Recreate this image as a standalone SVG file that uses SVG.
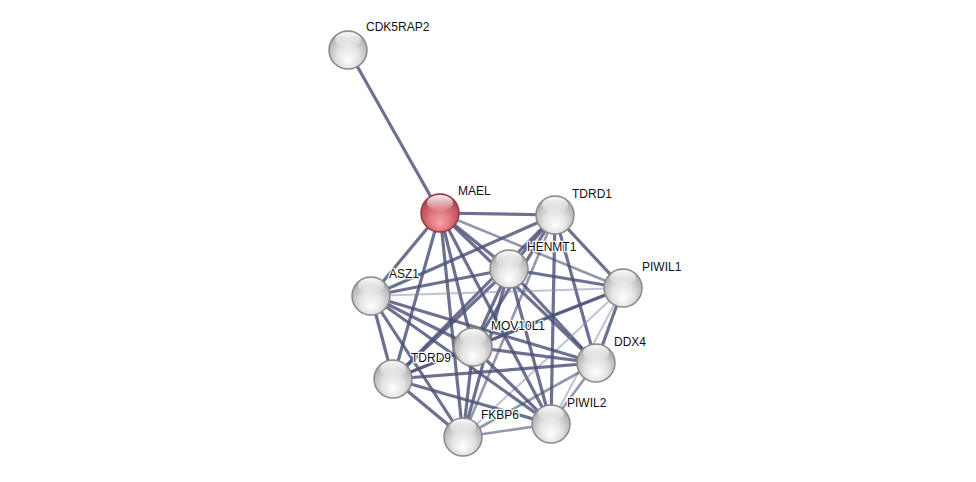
<svg xmlns="http://www.w3.org/2000/svg" width="976" height="482" viewBox="0 0 976 482">
<defs>
<radialGradient id="gw" cx="50%" cy="60%" r="58%" fx="50%" fy="78%">
<stop offset="0" stop-color="#ffffff"/>
<stop offset="0.5" stop-color="#e4e4e4"/>
<stop offset="1" stop-color="#a8a8a8"/>
</radialGradient>
<radialGradient id="gr" cx="50%" cy="60%" r="58%" fx="50%" fy="78%">
<stop offset="0" stop-color="#f6a4a8"/>
<stop offset="0.5" stop-color="#de747b"/>
<stop offset="1" stop-color="#ad424b"/>
</radialGradient>
<linearGradient id="hl" x1="0" y1="0" x2="0" y2="1">
<stop offset="0" stop-color="#ffffff" stop-opacity="0.95"/>
<stop offset="1" stop-color="#ffffff" stop-opacity="0.05"/>
</linearGradient>
</defs>
<style>
.e{stroke:#4a5276;stroke-width:3.2;stroke-opacity:0.82;fill:none}
.m{stroke:#4a5276;stroke-width:2.6;stroke-opacity:0.6;fill:none}
.l{stroke:#7f87a8;stroke-width:2;stroke-opacity:0.5;fill:none}
.n{fill:url(#gw);stroke:#8a8a8a;stroke-width:1.5}
.r{fill:url(#gr);stroke:#963840;stroke-width:1.5}
.h{fill:url(#hl)}
text{font-family:"Liberation Sans",Arial,sans-serif;font-size:12px;fill:#111;stroke:#fff;stroke-width:2.5;paint-order:stroke;stroke-linejoin:round}
</style>
<rect width="976" height="482" fill="#ffffff"/>
<g id="edges">
<line class="e" x1="348" y1="50" x2="440" y2="213"/>
<line class="e" x1="440" y1="213" x2="555" y2="215"/>
<line class="e" x1="440" y1="213" x2="509" y2="269"/>
<line class="m" x1="440" y1="213" x2="623" y2="288"/>
<line class="e" x1="440" y1="213" x2="371" y2="296"/>
<line class="e" x1="440" y1="213" x2="473" y2="347"/>
<line class="e" x1="440" y1="213" x2="596" y2="363"/>
<line class="e" x1="440" y1="213" x2="393" y2="379"/>
<line class="e" x1="440" y1="213" x2="463" y2="437"/>
<line class="e" x1="440" y1="213" x2="551" y2="424"/>
<line class="e" x1="555" y1="215" x2="509" y2="269"/>
<line class="e" x1="555" y1="215" x2="623" y2="288"/>
<line class="e" x1="555" y1="215" x2="371" y2="296"/>
<line class="e" x1="555" y1="215" x2="473" y2="347"/>
<line class="e" x1="555" y1="215" x2="596" y2="363"/>
<line class="e" x1="555" y1="215" x2="393" y2="379"/>
<line class="m" x1="555" y1="215" x2="463" y2="437"/>
<line class="e" x1="555" y1="215" x2="551" y2="424"/>
<line class="e" x1="509" y1="269" x2="623" y2="288"/>
<line class="e" x1="509" y1="269" x2="371" y2="296"/>
<line class="e" x1="509" y1="269" x2="473" y2="347"/>
<line class="e" x1="509" y1="269" x2="596" y2="363"/>
<line class="e" x1="509" y1="269" x2="393" y2="379"/>
<line class="e" x1="509" y1="269" x2="463" y2="437"/>
<line class="e" x1="509" y1="269" x2="551" y2="424"/>
<line class="l" x1="623" y1="288" x2="371" y2="296"/>
<line class="e" x1="623" y1="288" x2="473" y2="347"/>
<line class="e" x1="623" y1="288" x2="596" y2="363"/>
<line class="m" x1="623" y1="288" x2="393" y2="379"/>
<line class="l" x1="623" y1="288" x2="463" y2="437"/>
<line class="l" x1="623" y1="288" x2="551" y2="424"/>
<line class="e" x1="371" y1="296" x2="473" y2="347"/>
<line class="e" x1="371" y1="296" x2="596" y2="363"/>
<line class="e" x1="371" y1="296" x2="393" y2="379"/>
<line class="e" x1="371" y1="296" x2="463" y2="437"/>
<line class="e" x1="371" y1="296" x2="551" y2="424"/>
<line class="e" x1="473" y1="347" x2="596" y2="363"/>
<line class="e" x1="473" y1="347" x2="393" y2="379"/>
<line class="e" x1="473" y1="347" x2="463" y2="437"/>
<line class="e" x1="473" y1="347" x2="551" y2="424"/>
<line class="e" x1="596" y1="363" x2="393" y2="379"/>
<line class="m" x1="596" y1="363" x2="463" y2="437"/>
<line class="m" x1="596" y1="363" x2="551" y2="424"/>
<line class="e" x1="393" y1="379" x2="463" y2="437"/>
<line class="e" x1="393" y1="379" x2="551" y2="424"/>
<line class="m" x1="463" y1="437" x2="551" y2="424"/>
</g>
<g id="CDK5RAP2"><circle class="n" cx="348" cy="50" r="19"/><ellipse class="h" cx="348" cy="40" rx="13" ry="8"/><text x="366" y="31">CDK5RAP2</text></g>
<g id="MAEL"><circle class="r" cx="440" cy="213" r="19"/><ellipse class="h" cx="440" cy="203" rx="13" ry="8"/><text x="458" y="195">MAEL</text></g>
<g id="TDRD1"><circle class="n" cx="555" cy="215" r="19"/><ellipse class="h" cx="555" cy="205" rx="13" ry="8"/><text x="572" y="198">TDRD1</text></g>
<g id="HENMT1"><circle class="n" cx="509" cy="269" r="19"/><ellipse class="h" cx="509" cy="259" rx="13" ry="8"/><text x="527" y="251">HENMT1</text></g>
<g id="PIWIL1"><circle class="n" cx="623" cy="288" r="19"/><ellipse class="h" cx="623" cy="278" rx="13" ry="8"/><text x="642" y="271">PIWIL1</text></g>
<g id="ASZ1"><circle class="n" cx="371" cy="296" r="19"/><ellipse class="h" cx="371" cy="286" rx="13" ry="8"/><text x="389" y="278">ASZ1</text></g>
<g id="MOV10L1"><circle class="n" cx="473" cy="347" r="19"/><ellipse class="h" cx="473" cy="337" rx="13" ry="8"/><text x="491" y="330">MOV10L1</text></g>
<g id="DDX4"><circle class="n" cx="596" cy="363" r="19"/><ellipse class="h" cx="596" cy="353" rx="13" ry="8"/><text x="614" y="346">DDX4</text></g>
<g id="TDRD9"><circle class="n" cx="393" cy="379" r="19"/><ellipse class="h" cx="393" cy="369" rx="13" ry="8"/><text x="411" y="362">TDRD9</text></g>
<g id="FKBP6"><circle class="n" cx="463" cy="437" r="19"/><ellipse class="h" cx="463" cy="427" rx="13" ry="8"/><text x="481" y="419">FKBP6</text></g>
<g id="PIWIL2"><circle class="n" cx="551" cy="424" r="19"/><ellipse class="h" cx="551" cy="414" rx="13" ry="8"/><text x="567" y="407">PIWIL2</text></g>
</svg>
